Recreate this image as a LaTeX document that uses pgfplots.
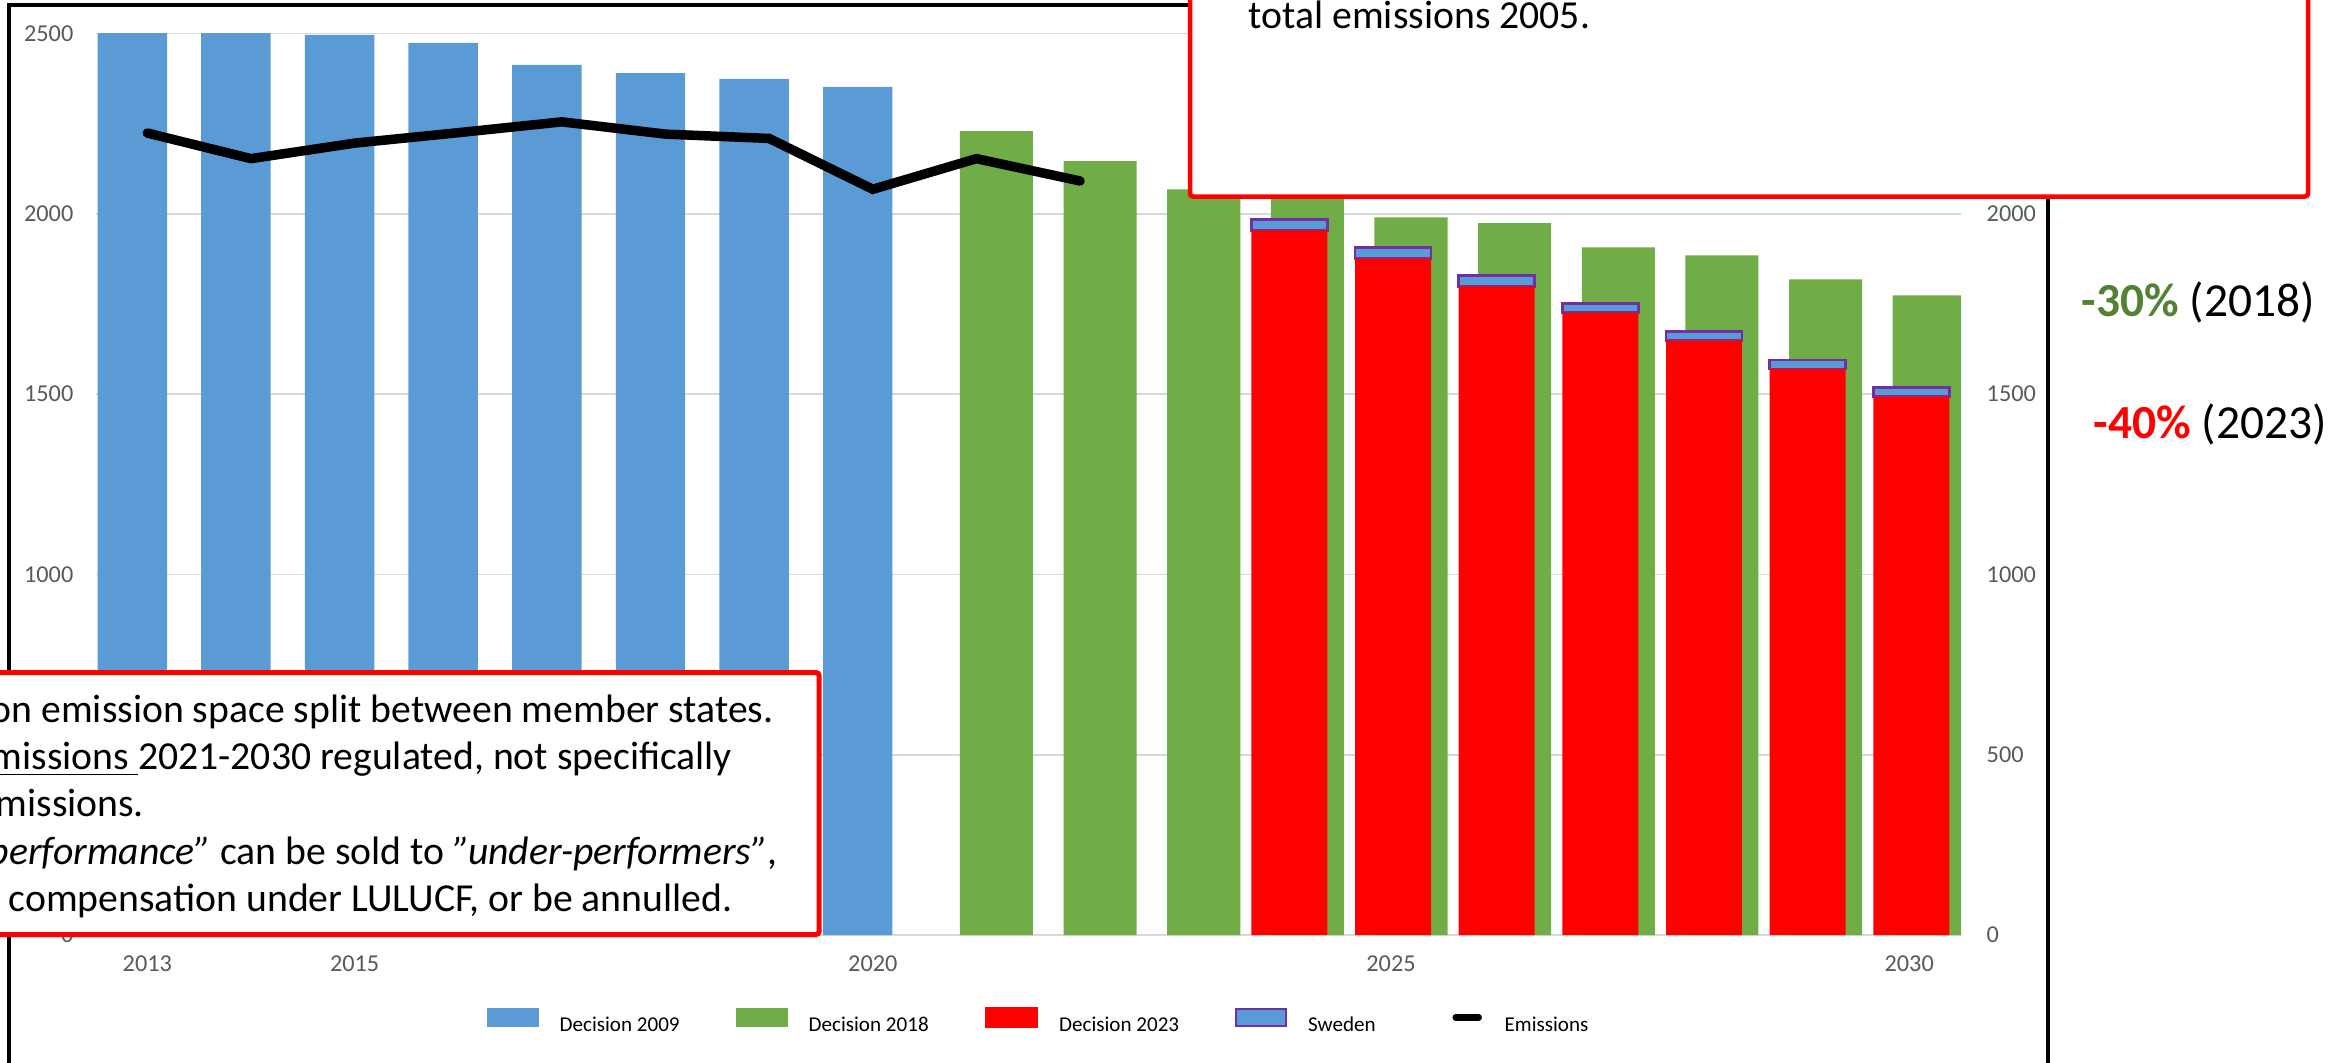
\documentclass[border=0pt]{standalone}
\usepackage{pgfplots}
\pgfplotsset{compat=1.18}
\usepackage{fontspec}
\setmainfont{Carlito}
\definecolor{dec09}{HTML}{5B9BD5}
\definecolor{dec18}{HTML}{70AD47}
\definecolor{dec23}{HTML}{FF0000}
\definecolor{swepurple}{HTML}{7030A0}
\definecolor{pctgreen}{HTML}{548235}
\definecolor{ticktext}{HTML}{595959}
\definecolor{gridgray}{HTML}{D9D9D9}

\pgfplotsset{
  esrframe/.style={
    scale only axis, width=186.55mm, height=90.15mm,
    at={(9.55mm,-93.5mm)}, anchor=south west,
    xmin=2012.5, xmax=2030.5, ymin=0, ymax=2500,
    ytick={0,500,...,2500},
    axis line style={draw=none},
    major tick length=0pt,
    tick style={draw=none},
    /pgf/number format/1000 sep={},
    /pgf/number format/assume math mode=true,
    ticklabel style={font=\fontsize{6.9}{8}\selectfont, text=ticktext, inner sep=0pt},
  },
}

\begin{document}
\begin{tikzpicture}
\useasboundingbox (0,0) rectangle (233mm,-106.2mm);
\clip (0,0) rectangle (233mm,-106.2mm);
% chart area border
\draw[line width=0.35mm] (0.9mm,-0.5mm) rectangle (204.8mm,-115mm);

\begin{axis}[esrframe,
  ymajorgrids, major grid style={gridgray, line width=0.45pt},
  xtick={2013,2015,2020,2025,2030},
  xticklabel style={anchor=north, yshift=-2.0mm},
  yticklabel style={anchor=east, xshift=-2.15mm},
  legend columns=5,
  legend style={at={(0.2093,-0.0965)}, anchor=west, draw=none, fill=none,
    inner sep=0pt, font=\fontsize{6}{7}\selectfont,
    nodes={inner sep=0pt},
    /tikz/every odd column/.append style={column sep=2.1mm},
    /tikz/every even column/.append style={column sep=5.6mm}},
]
\addplot[ybar, bar width=0.67, bar shift=-0.145, fill=dec09, draw=none,
  legend image code/.code={\fill[dec09] (0mm,0mm) rectangle (5.2mm,1.9mm);}]
  coordinates {(2013,2501) (2014,2501) (2015,2496) (2016,2474) (2017,2413)
               (2018,2390) (2019,2374) (2020,2352)};
\addlegendentry{Decision 2009}
\addplot[ybar, bar width=0.705, bar shift=0.193, fill=dec18, draw=none,
  legend image code/.code={\fill[dec18] (0mm,0mm) rectangle (5.2mm,1.9mm);}]
  coordinates {(2021,2229) (2022,2146) (2023,2068) (2024,2055) (2025,1990)
               (2026,1974) (2027,1907) (2028,1885) (2029,1818) (2030,1774)};
\addlegendentry{Decision 2018}
\addlegendimage{legend image code/.code={\fill[dec23] (0mm,0mm) rectangle (5.2mm,1.9mm);}}
\addlegendentry{Decision 2023}
\addlegendimage{legend image code/.code={\draw[fill=dec09, draw=swepurple, line width=0.2mm] (0.1mm,0.1mm) rectangle (5.1mm,1.8mm);}}
\addlegendentry{Sweden}
\addplot[black, line width=2.7pt, line cap=round,
  legend image code/.code={\path[draw=none, fill=none] (0mm,0mm) rectangle (5.2mm,1.9mm);
    \draw[black, line width=0.65mm, line cap=round] (2.4mm,0.95mm) -- (4.7mm,0.95mm);}]
  coordinates {(2013,2224) (2014,2153) (2015,2196) (2016,2225) (2017,2255)
               (2018,2221) (2019,2209) (2020,2068) (2021,2153) (2022,2091)};
\addlegendentry{Emissions}
\end{axis}

\begin{axis}[esrframe,
  xtick=\empty,
  yticklabel pos=right,
  yticklabel style={anchor=west, xshift=2.5mm},
  ybar stacked,
]
\addplot[bar width=0.733, bar shift=0.02, fill=dec23, draw=none]
  coordinates {(2024,1954) (2025,1876) (2026,1799) (2027,1726) (2028,1648)
               (2029,1570) (2030,1493)};
\addplot[bar width=0.733, bar shift=0.02, fill=dec09, draw=swepurple, line width=0.25mm]
  coordinates {(2024,30) (2025,30) (2026,30) (2027,25) (2028,25) (2029,25) (2030,25)};
\end{axis}

% text boxes
\draw[dec23, line width=0.45mm, fill=white, rounded corners=0.3mm]
  (119.0mm,3mm) rectangle (230.8mm,-19.65mm);
\draw[dec23, line width=0.5mm, fill=white, rounded corners=0.3mm]
  (-3mm,-67.25mm) rectangle (81.9mm,-93.45mm);

\begin{scope}[every node/.style={anchor=base west, inner sep=0pt,
    font=\fontsize{11.3}{13.5}\selectfont}]
\node at (124.8mm,-2.83mm) {total emissions 2005.};
\node at (-1.0mm,-72.25mm) {on emission space split between member states.};
\node at (-1.0mm,-76.95mm) {\underline{missions\ }2021-2030 regulated, not specifically};
\node at (-0.5mm,-81.65mm) {missions.};
\node at (-1.2mm,-86.4mm) {\textit{performance”} can be sold to \textit{”under-performers”},};
\node at (0.8mm,-91.15mm) {compensation under LULUCF, or be annulled.};
\end{scope}

\begin{scope}[every node/.style={anchor=base west, inner sep=0pt,
    font=\fontsize{13.5}{15}\selectfont}]
\node at (208.1mm,-31.67mm) {\textcolor{pctgreen}{\textbf{-30\%}} (2018)};
\node at (209.3mm,-43.8mm) {\textcolor{dec23}{\textbf{-40\%}} (2023)};
\end{scope}
\end{tikzpicture}
\end{document}
